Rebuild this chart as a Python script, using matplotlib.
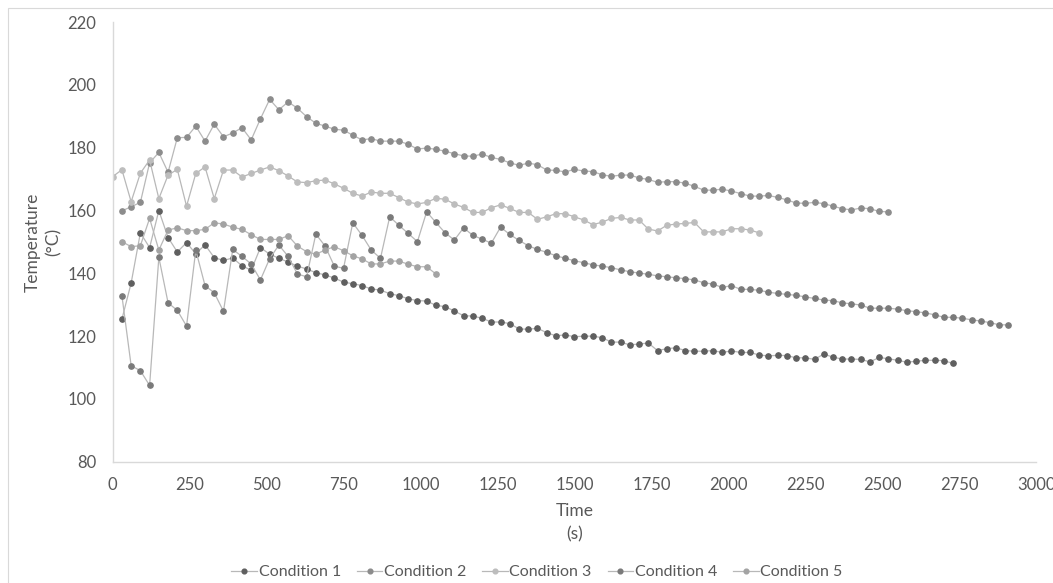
import numpy as np
import matplotlib
matplotlib.use("Agg")
import matplotlib.pyplot as plt
from matplotlib.patches import Rectangle

plt.rcParams["font.family"] = ["Lato", "DejaVu Sans"]

# Logged temperatures, one reading every 30 s
STEP = 30

cond1_start = 30
cond1 = [125.4, 136.9, 152.9, 148.2, 160.0, 151.4, 146.8, 149.8, 146.2, 149.1,
         145.0, 144.1, 144.9, 142.4, 141.0, 148.2, 146.1, 144.8, 143.6, 142.3,
         141.4, 140.2, 139.5, 138.5, 137.2, 136.7, 136.1, 135.0, 134.7, 133.5,
         132.9, 131.9, 131.3, 131.2, 129.8, 129.4, 128.0, 126.5, 126.4, 125.7,
         124.5, 124.5, 124.0, 122.3, 122.2, 122.5, 121.1, 120.1, 120.4, 119.8,
         120.0, 120.0, 119.5, 118.1, 118.1, 117.2, 117.5, 117.8, 115.4, 116.0,
         116.3, 115.4, 115.2, 115.2, 115.4, 114.8, 115.3, 114.8, 114.8, 114.0,
         113.7, 113.9, 113.8, 113.1, 113.1, 112.6, 114.3, 113.3, 112.7, 112.7,
         112.6, 111.8, 113.2, 112.8, 112.3, 111.7, 112.0, 112.3, 112.3, 112.2,
         111.3]

cond2_start = 30
cond2 = [159.9, 161.2, 162.6, 175.2, 178.5, 172.2, 183.2, 183.3, 186.9, 182.1,
         187.5, 183.5, 184.7, 186.4, 182.5, 189.2, 195.4, 192.1, 194.6, 192.6,
         189.9, 187.8, 186.9, 185.9, 185.6, 184.0, 182.5, 182.9, 182.1, 182.1,
         182.1, 181.1, 179.6, 179.9, 179.5, 178.9, 178.1, 177.4, 177.3, 178.0,
         176.9, 176.3, 175.2, 174.4, 175.1, 174.6, 172.9, 172.8, 172.3, 173.1,
         172.6, 172.4, 171.4, 170.9, 171.3, 171.3, 170.4, 169.9, 169.0, 169.2,
         169.2, 168.7, 167.7, 166.5, 166.5, 166.8, 166.2, 165.4, 164.6, 164.6,
         164.8, 164.2, 163.4, 162.4, 162.3, 162.6, 162.2, 161.4, 160.6, 160.2,
         160.8, 160.6, 159.7, 159.6]

cond3_start = 0
cond3 = [170.8, 173.0, 162.8, 171.9, 176.1, 163.8, 171.3, 173.1, 161.4, 171.8,
         173.9, 163.8, 172.9, 172.9, 170.7, 171.8, 172.9, 173.9, 172.7, 171.0,
         169.1, 168.9, 169.5, 169.7, 168.5, 167.1, 165.5, 164.6, 165.9, 165.5,
         165.5, 164.1, 162.7, 162.1, 162.6, 163.9, 163.6, 162.1, 161.0, 159.4,
         159.4, 160.9, 161.8, 160.7, 159.4, 159.4, 157.2, 158.0, 159.0, 159.0,
         158.0, 157.0, 155.5, 156.3, 157.5, 157.8, 157.0, 157.0, 154.1, 153.5,
         155.3, 155.7, 155.9, 156.2, 153.2, 153.2, 153.2, 154.2, 154.2, 153.8,
         152.9]

cond4_start = 30
cond4 = [132.9, 110.6, 109.0, 104.3, 145.1, 130.6, 128.2, 123.2, 147.4, 136.1,
         133.8, 127.9, 147.6, 145.4, 143.0, 137.9, 144.7, 149.0, 145.4, 139.8,
         138.9, 152.5, 148.7, 142.3, 141.6, 156.1, 152.1, 147.4, 144.8, 158.0,
         155.3, 152.7, 150.1, 159.6, 156.2, 152.9, 150.6, 154.5, 152.1, 150.9,
         149.6, 154.7, 152.4, 150.5, 148.8, 147.6, 146.7, 145.6, 144.8, 144.0,
         143.4, 142.7, 142.3, 141.8, 141.1, 140.5, 140.1, 139.7, 139.2, 138.9,
         138.6, 138.3, 137.9, 137.0, 136.6, 135.5, 136.1, 134.9, 134.9, 134.6,
         134.0, 133.6, 133.3, 133.0, 132.5, 132.0, 131.5, 131.3, 130.6, 130.3,
         129.9, 128.9, 128.9, 128.9, 128.6, 128.1, 127.8, 127.4, 126.8, 126.0,
         126.0, 125.7, 125.2, 124.8, 124.3, 123.6, 123.6]

cond5_start = 30
cond5 = [150.1, 148.5, 148.8, 157.5, 147.4, 153.8, 154.5, 153.6, 153.6, 154.0,
         156.1, 155.7, 154.7, 154.0, 152.3, 150.8, 150.8, 150.8, 152.0, 148.7,
         146.9, 146.1, 147.4, 148.5, 147.2, 145.6, 144.6, 143.0, 143.0, 143.9,
         143.9, 142.9, 142.1, 142.1, 139.8]

labels = ["Condition 1", "Condition 2", "Condition 3", "Condition 4", "Condition 5"]
starts = [cond1_start, cond2_start, cond3_start, cond4_start, cond5_start]
series = [cond1, cond2, cond3, cond4, cond5]
marker_cols = ["#5f5f5f", "#8c8c8c", "#bdbdbd", "#7a7a7a", "#a3a3a3"]
LINE_COL = "#b8b8b8"
TEXT_COL = "#595959"
AXIS_COL = "#d9d9d9"

fig = plt.figure(figsize=(10.53, 5.83), dpi=100, facecolor="white")
ax = fig.add_axes([0.107, 0.208, 0.877, 0.754])

for lbl, t0, vals, mc in zip(labels, starts, series, marker_cols):
    t = t0 + STEP * np.arange(len(vals))
    ax.plot(t, vals, color=LINE_COL, linewidth=0.9, marker="o", markersize=3.8,
            markerfacecolor=mc, markeredgecolor=mc, label=lbl)

ax.set_xlim(0, 3000)
ax.set_ylim(80, 220)
ax.set_xticks(np.arange(0, 3001, 250))
ax.set_yticks(np.arange(80, 221, 20))
ax.tick_params(length=0, labelsize=12, colors=TEXT_COL)
ax.tick_params(axis="y", pad=12)
ax.tick_params(axis="x", pad=11)
for side in ("top", "right"):
    ax.spines[side].set_visible(False)
for side in ("left", "bottom"):
    ax.spines[side].set_color(AXIS_COL)
    ax.spines[side].set_linewidth(1.0)

ax.set_xlabel("Time\n(s)", fontsize=12.5, color=TEXT_COL, linespacing=1.55)
ax.set_ylabel("Temperature\n(°C)", fontsize=12.5, color=TEXT_COL, linespacing=1.35)
ax.xaxis.set_label_coords(0.5, -0.094)
ax.yaxis.set_label_coords(-0.055, 0.5)

fig.legend(loc="lower center", bbox_to_anchor=(0.51, -0.018), ncol=5, frameon=False,
           fontsize=11.5, labelcolor=TEXT_COL, handlelength=1.6, handletextpad=0.1,
           columnspacing=1.0, markerscale=0.9)

# thin chart-area frame
fig.patches.append(Rectangle((8 / 1053, -0.01), 1.02, 1 - 8 / 583 + 0.01,
                             transform=fig.transFigure, fill=False,
                             edgecolor=AXIS_COL, linewidth=0.8))

fig.savefig("out.png", dpi=100, facecolor="white")
